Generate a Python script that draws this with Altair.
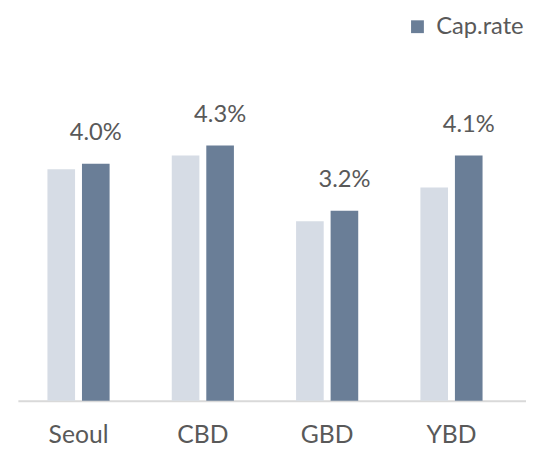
import altair as alt
import pandas as pd

categories = ["Seoul", "CBD", "GBD", "YBD"]
prev_values = [3.91, 4.14, 3.03, 3.60]
cap_values = [4.0, 4.31, 3.21, 4.14]
series_names = ["Prev", "Cap.rate"]

rows = []
for c, p, v in zip(categories, prev_values, cap_values):
    rows.append({"cat": c, "series": "Prev", "value": p})
    rows.append({"cat": c, "series": "Cap.rate", "value": v})
df = pd.DataFrame(rows)

FONT = "Lato"
TXT = "#595959"
LIGHT = "#d6dce5"
DARK = "#6a7e97"

x = alt.X("cat:N", sort=categories, title=None,
          scale=alt.Scale(paddingInner=0.5, paddingOuter=0.2937, align=0.405),
          axis=alt.Axis(labelAngle=0, ticks=False, domainColor="#d9d9d9", domainWidth=2,
                        labelFont=FONT, labelFontSize=25, labelColor=TXT, labelPadding=22))
xo = alt.XOffset("series:N", sort=series_names,
                 scale=alt.Scale(domain=series_names, paddingInner=0.2, paddingOuter=0))
y = alt.Y("value:Q", scale=alt.Scale(domain=[0, 5], nice=False, zero=True), axis=None)

base = alt.Chart(df).encode(x=x, xOffset=xo, y=y)

light = base.mark_bar(color=LIGHT).transform_filter(alt.datum.series == "Prev")
dark = base.mark_bar().encode(
    color=alt.Color("series:N", scale=alt.Scale(domain=["Cap.rate"], range=[DARK]),
                    legend=alt.Legend(title=None, orient="none", legendX=393, legendY=-91,
                                      symbolType="square", symbolSize=169, symbolStrokeWidth=0,
                                      labelFont=FONT, labelFontSize=24, labelColor=TXT,
                                      labelOffset=7, labelLimit=200))
).transform_filter(alt.datum.series == "Cap.rate")

labels = base.mark_text(baseline="bottom", dy=-19, font=FONT, fontSize=24, color=TXT).encode(
    text="lbl:N"
).transform_filter(alt.datum.series == "Cap.rate").transform_calculate(
    lbl="format(datum.value, '.1f') + '%'"
)

chart = alt.layer(light, dark, labels).properties(
    width=515, height=300,
    autosize=alt.AutoSizeParams(type="none"),
    padding={"left": 10, "top": 95, "right": 0, "bottom": 45},
).configure_view(stroke=None)

chart.save("out.html", embed_options={"renderer": "svg", "actions": False})
